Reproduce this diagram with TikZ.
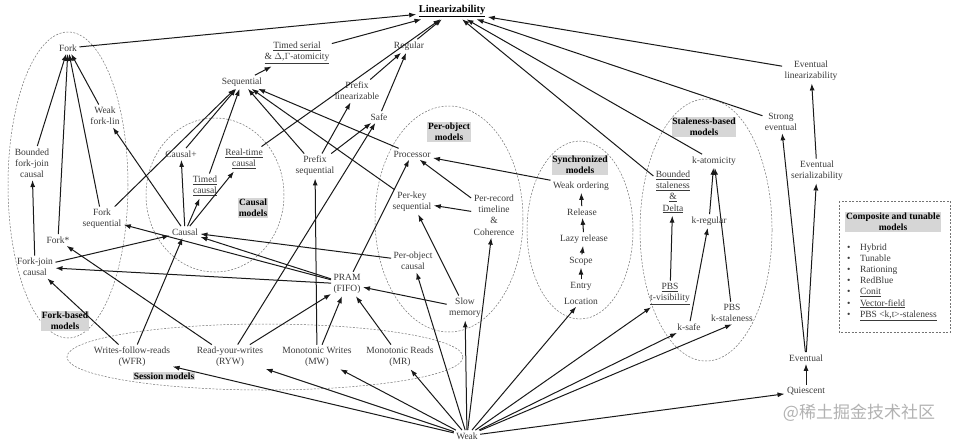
\documentclass[tikz,border=0pt]{standalone}
\usepackage{fontspec}
\setmainfont{Liberation Serif}
\newfontfamily\cjkfont{Noto Sans CJK SC}
\usetikzlibrary{arrows.meta}
\definecolor{txtc}{HTML}{3A3A3A}
\definecolor{tagc}{HTML}{D6D6D6}
\begin{document}
\begin{tikzpicture}[x=1pt,y=-1pt,
 lbl/.style={font=\fontsize{9.5}{11.2}\selectfont, text=txtc, align=center, inner sep=1.5pt, outer sep=1pt},
 tagbox/.style={font=\bfseries\fontsize{9.5}{11.2}\selectfont, fill=tagc, text=black, align=center, inner sep=0.8pt},
 arr/.style={draw=black!90, line width=1pt, -{Latex[length=7pt,width=5pt]}},
 grp/.style={draw=black!55, line width=0.5pt, dash pattern=on 2pt off 1.5pt}]
\useasboundingbox (0,0) rectangle (955,440);
\fill[white] (0,0) rectangle (955,440);

% group outlines
\draw[grp] (68,185) ellipse [x radius=60pt, y radius=153pt];
\draw[grp] (215,195) ellipse [x radius=69pt, y radius=77pt];
\draw[grp] (265,357) ellipse [x radius=198pt, y radius=33pt];
\draw[grp] (449,219) ellipse [x radius=74pt, y radius=113pt];
\draw[grp] (580,230) ellipse [x radius=53pt, y radius=89pt];
\draw[grp] (706,230) ellipse [x radius=66pt, y radius=131pt];
\draw[grp] (839,201) rectangle (950,332);

% group tags
\node[tagbox] (forktag) at (65,321) {Fork-based\\models};
\node[tagbox] (causaltag) at (253,208) {Causal\\models};
\node[tagbox] (sesstag) at (164,376) {Session models};
\node[tagbox] (potag) at (449,132) {Per-object\\models};
\node[tagbox] (synctag) at (580,165) {Synchronized\\models};
\node[tagbox] (stagtag) at (704,127) {Staleness-based\\models};
\node[tagbox] (comptag) at (893,222) {Composite and tunable\\models};

% nodes
\node[lbl, font=\bfseries\fontsize{10.5}{12}\selectfont, text=black] (lin) at (452,11) {\underline{Linearizability}};
\node[lbl] (fork) at (68,48) {Fork};
\node[lbl] (wfl) at (105,116) {Weak\\fork-lin};
\node[lbl] (bfjc) at (32,163) {Bounded\\fork-join\\causal};
\node[lbl] (forkseq) at (102,219) {Fork\\sequential};
\node[lbl] (forkstar) at (58,240) {Fork*};
\node[lbl] (fjc) at (35,267) {Fork-join\\causal};
\node[lbl] (wfr) at (132,357) {Writes-follow-reads\\(WFR)};
\node[lbl] (ryw) at (230,357) {Read-your-writes\\(RYW)};
\node[lbl] (mw) at (317,357) {Monotonic Writes\\(MW)};
\node[lbl] (mr) at (400,357) {Monotonic Reads\\(MR)};
\node[lbl] (pram) at (347,284) {PRAM\\(FIFO)};
\node[lbl] (pocausal) at (413,261) {Per-object\\causal};
\node[lbl] (slow) at (465,308) {Slow\\memory};
\node[lbl] (perkey) at (412,202) {Per-key\\sequential};
\node[lbl] (proc) at (412,154) {Processor};
\node[lbl] (perrec) at (494,215) {Per-record\\timeline\\\&\\Coherence};
\node[lbl] (weakord) at (581,186) {Weak ordering};
\node[lbl] (release) at (582,212) {Release};
\node[lbl] (lazy) at (584,239) {Lazy release};
\node[lbl] (scope) at (581,261) {Scope};
\node[lbl] (entry) at (581,286) {Entry};
\node[lbl] (location) at (581,301) {Location};
\node[lbl] (katom) at (714,161) {k-atomicity};
\node[lbl] (bsd) at (673,192) {\underline{Bounded}\\\underline{staleness}\\\underline{\&}\\\underline{Delta}};
\node[lbl] (kreg) at (709,221) {k-regular};
\node[lbl] (pbst) at (670,294) {\underline{PBS}\\\underline{t-visibility}};
\node[lbl] (ksafe) at (689,327) {k-safe};
\node[lbl] (pbsk) at (732,313) {PBS\\k-staleness};
\node[lbl] (strong) at (781,122) {Strong\\eventual};
\node[lbl] (evlin) at (811,71) {Eventual\\linearizability};
\node[lbl] (evser) at (817,171) {Eventual\\serializability};
\node[lbl] (eventual) at (806,358) {Eventual};
\node[lbl] (quiescent) at (806,391) {Quiescent};
\node[lbl] (weak) at (467,436) {Weak};
\node[lbl] (seq) at (242,82) {Sequential};
\node[lbl] (timedserial) at (297,53) {\underline{Timed serial}\\\underline{\& $\Delta$,$\Gamma$-atomicity}};
\node[lbl] (reg) at (409,46) {Regular};
\node[lbl] (preflin) at (357,91) {Prefix\\linearizable};
\node[lbl] (safe) at (379,117) {Safe};
\node[lbl] (prefseq) at (315,166) {Prefix\\sequential};
\node[lbl] (rtcausal) at (244,159) {\underline{Real-time}\\\underline{causal}};
\node[lbl] (causalplus) at (181,154) {Causal+};
\node[lbl] (timedcausal) at (205,186) {\underline{Timed}\\\underline{causal}};
\node[lbl] (causal) at (185,232) {Causal};

\node[lbl, anchor=north west, align=left, inner sep=0pt] (complist) at (846,242.5) {%
\makebox[13pt][l]{\textbullet}Hybrid\\
\makebox[13pt][l]{\textbullet}Tunable\\
\makebox[13pt][l]{\textbullet}Rationing\\
\makebox[13pt][l]{\textbullet}RedBlue\\
\makebox[13pt][l]{\textbullet}\underline{Conit}\\
\makebox[13pt][l]{\textbullet}\underline{Vector-field}\\
\makebox[13pt][l]{\textbullet}\underline{PBS <k,t>-staleness}};

\node[font=\cjkfont\fontsize{17}{17}\selectfont, text=black!30, inner sep=0pt] (wm) at (859,413) {@稀土掘金技术社区};

% connectors
\foreach \a/\b in {fjc/bfjc, bfjc/fork, forkstar/fork, forkseq/fork, wfl/fork, fork/lin,
  causal/wfl, forkseq/seq, fjc/causal, pram/forkseq, pram/fjc, wfr/fjc, wfr/causal,
  ryw/forkstar, ryw/pram, ryw/safe, mw/pram, mw/prefseq, mr/pram,
  causal/causalplus, causal/timedcausal, causal/rtcausal, causalplus/seq, timedcausal/seq,
  rtcausal/lin, seq/timedserial, timedserial/lin, prefseq/seq, prefseq/preflin, prefseq/safe,
  preflin/reg, reg/lin, safe/reg, pram/causal, pram/proc, pocausal/causal, proc/seq, perkey/seq,
  slow/pram, slow/perkey, perrec/proc, perrec/perkey, weakord/proc,
  release/weakord, lazy/release, scope/lazy, entry/scope,
  bsd/lin, pbst/bsd, katom/lin, kreg/katom, pbsk/katom, ksafe/kreg,
  strong/lin, evlin/lin, evser/evlin, eventual/evser, eventual/strong, quiescent/eventual,
  weak/wfr, weak/ryw, weak/mw, weak/mr, weak/pocausal, weak/slow, weak/perrec, weak/location,
  weak/pbst, weak/ksafe, weak/quiescent}
  \draw[arr] (\a) -- (\b);
\draw[arr] (weak) -- (pbsk.south);
\end{tikzpicture}
\end{document}
